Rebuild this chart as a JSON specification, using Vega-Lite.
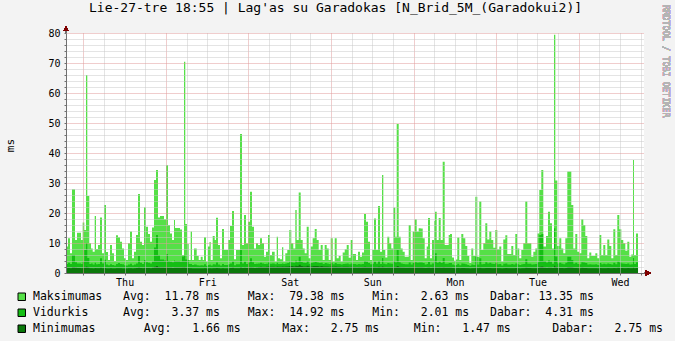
{
  "$schema": "https://vega.github.io/schema/vega-lite/v6.json",
  "width": 578,
  "height": 240,
  "autosize": "none",
  "padding": {"left": 66, "top": 33, "right": 31, "bottom": 68},
  "background": "#f3f3f3",
  "view": {"fill": "#ffffff", "stroke": null},
  "config": {"font": "DejaVu Sans Mono"},
  "title": {"text": "Lie-27-tre 18:55 | Lag'as su Garadokas [N_Brid_5M_(Garadokui2)]", "font": "DejaVu Sans Mono", "fontSize": 13, "fontWeight": "normal", "color": "#000000", "anchor": "start", "frame": "group", "dx": 23, "offset": -15.5, "baseline": "middle"},
  "data": {"values": [
    {"h":0,"mx":8.8,"av":3.0,"mn":1.6},{"h":0.29,"mx":11.6,"av":3.4,"mn":1.7},{"h":0.87,"mx":6.6,"av":3.0,"mn":1.6},{"h":1.45,"mx":27.9,"av":6.0,"mn":2.0},{"h":2.33,"mx":11,"av":3.6,"mn":1.8},{"h":2.91,"mx":13.4,"av":3.2,"mn":1.7},{"h":4.07,"mx":11,"av":3.0,"mn":1.6},{"h":4.56,"mx":16.8,"av":3.8,"mn":1.8},{"h":5.03,"mx":14.3,"av":7.7,"mn":1.9},{"h":5.52,"mx":66,"av":10,"mn":2.2},{"h":5.9,"mx":25.7,"av":5.0,"mn":1.9},{"h":6.48,"mx":9.9,"av":3.0,"mn":1.6},{"h":6.98,"mx":8.2,"av":3.2,"mn":1.6},{"h":7.47,"mx":7.1,"av":2.8,"mn":1.5},{"h":8.05,"mx":19,"av":3.4,"mn":1.7},{"h":8.43,"mx":8,"av":2.9,"mn":1.6},{"h":9.01,"mx":9.3,"av":3.0,"mn":1.6},{"h":9.59,"mx":18.5,"av":4.9,"mn":1.8},{"h":10.17,"mx":6.6,"av":3.2,"mn":1.6},{"h":10.75,"mx":22.7,"av":4.4,"mn":1.7},{"h":11.34,"mx":7,"av":2.8,"mn":1.5},{"h":11.92,"mx":4.3,"av":2.6,"mn":1.5},{"h":12.5,"mx":9.3,"av":2.9,"mn":1.6},{"h":13.08,"mx":6.6,"av":2.7,"mn":1.5},{"h":13.66,"mx":4,"av":2.5,"mn":1.47},{"h":14.24,"mx":12.6,"av":3.0,"mn":1.6},{"h":14.82,"mx":11.9,"av":3.3,"mn":1.6},{"h":15.4,"mx":10.4,"av":3.0,"mn":1.6},{"h":15.99,"mx":8.2,"av":2.9,"mn":1.5},{"h":16.57,"mx":4.9,"av":2.6,"mn":1.5},{"h":17.15,"mx":4.3,"av":2.5,"mn":1.5},{"h":17.73,"mx":9.9,"av":2.8,"mn":1.6},{"h":18.31,"mx":13.8,"av":3.1,"mn":1.6},{"h":18.89,"mx":4.9,"av":2.6,"mn":1.5},{"h":19.47,"mx":7.1,"av":2.8,"mn":1.6},{"h":20.06,"mx":12.7,"av":3.2,"mn":1.7},{"h":20.64,"mx":26.3,"av":5.7,"mn":1.9},{"h":21.22,"mx":10.4,"av":3.4,"mn":1.7},{"h":21.8,"mx":9.3,"av":3.0,"mn":1.6},{"h":22.38,"mx":21.9,"av":4.3,"mn":1.8},{"h":22.96,"mx":15.4,"av":3.6,"mn":1.7},{"h":23.54,"mx":13,"av":3.4,"mn":1.7},{"h":24.12,"mx":10.4,"av":3.2,"mn":1.6},{"h":24.71,"mx":15.2,"av":3.8,"mn":1.8},{"h":25.29,"mx":31,"av":8.5,"mn":2.1},{"h":25.87,"mx":34.3,"av":12.7,"mn":2.3},{"h":26.45,"mx":18.5,"av":6.0,"mn":2.0},{"h":27.03,"mx":19,"av":4.5,"mn":1.9},{"h":28.19,"mx":17.9,"av":4.2,"mn":1.8},{"h":28.78,"mx":36,"av":6.3,"mn":2.0},{"h":29.36,"mx":16,"av":4.0,"mn":1.8},{"h":29.94,"mx":13.2,"av":3.8,"mn":1.8},{"h":30.52,"mx":11,"av":3.6,"mn":1.7},{"h":31.1,"mx":17.7,"av":4.2,"mn":1.8},{"h":31.39,"mx":15,"av":4.0,"mn":1.8},{"h":32.84,"mx":14.5,"av":3.8,"mn":1.8},{"h":33.43,"mx":6,"av":5.5,"mn":1.9},{"h":34.01,"mx":70.4,"av":6,"mn":2.0},{"h":34.38,"mx":16.3,"av":4.5,"mn":1.8},{"h":34.88,"mx":9.7,"av":4.3,"mn":1.7},{"h":35.37,"mx":4.3,"av":3.0,"mn":1.6},{"h":35.95,"mx":13.8,"av":3.0,"mn":1.6},{"h":36.33,"mx":4.3,"av":2.7,"mn":1.5},{"h":36.91,"mx":8.2,"av":2.8,"mn":1.5},{"h":37.7,"mx":5.7,"av":2.6,"mn":1.5},{"h":38.28,"mx":4.3,"av":2.5,"mn":1.5},{"h":38.86,"mx":5.4,"av":2.6,"mn":1.5},{"h":39.44,"mx":4.3,"av":2.5,"mn":1.5},{"h":39.82,"mx":11.9,"av":2.9,"mn":1.6},{"h":40.4,"mx":3.8,"av":2.4,"mn":1.5},{"h":40.98,"mx":8.8,"av":2.7,"mn":1.5},{"h":41.42,"mx":10.3,"av":2.8,"mn":1.6},{"h":41.77,"mx":4.3,"av":2.5,"mn":1.5},{"h":42.35,"mx":12.3,"av":2.9,"mn":1.6},{"h":42.93,"mx":11,"av":2.8,"mn":1.6},{"h":43.31,"mx":18.4,"av":3.5,"mn":1.7},{"h":43.89,"mx":9.3,"av":2.8,"mn":1.6},{"h":44.47,"mx":4.9,"av":2.5,"mn":1.5},{"h":45.05,"mx":14.7,"av":3.0,"mn":1.6},{"h":45.63,"mx":7.7,"av":2.7,"mn":1.5},{"h":46.8,"mx":11,"av":2.9,"mn":1.6},{"h":47.38,"mx":15.7,"av":3.2,"mn":1.7},{"h":47.96,"mx":20.7,"av":3.8,"mn":1.8},{"h":48.54,"mx":4.6,"av":2.6,"mn":1.6},{"h":49.12,"mx":7.7,"av":2.9,"mn":1.6},{"h":50.28,"mx":46.3,"av":7.7,"mn":2.0},{"h":50.87,"mx":9.3,"av":3.2,"mn":1.7},{"h":51.45,"mx":19.3,"av":3.8,"mn":1.8},{"h":52.03,"mx":9.9,"av":3.0,"mn":1.7},{"h":52.61,"mx":17.1,"av":3.5,"mn":1.8},{"h":53.19,"mx":27.1,"av":4.9,"mn":1.9},{"h":53.77,"mx":15.4,"av":3.6,"mn":1.8},{"h":54.35,"mx":8.2,"av":3.0,"mn":1.7},{"h":54.93,"mx":9.9,"av":3.1,"mn":1.8},{"h":55.52,"mx":9.3,"av":3.2,"mn":2.0},{"h":56.1,"mx":11.6,"av":3.4,"mn":2.1},{"h":56.68,"mx":9.9,"av":3.2,"mn":2.0},{"h":57.26,"mx":5.4,"av":3.0,"mn":2.0},{"h":57.84,"mx":7.1,"av":3.1,"mn":2.1},{"h":58.42,"mx":12.7,"av":3.5,"mn":2.2},{"h":59.0,"mx":6,"av":3.1,"mn":2.1},{"h":59.58,"mx":7.1,"av":3.2,"mn":2.1},{"h":60.37,"mx":3.8,"av":2.9,"mn":2.0},{"h":60.95,"mx":12.1,"av":3.4,"mn":2.2},{"h":61.33,"mx":4.9,"av":3.0,"mn":2.1},{"h":61.91,"mx":4.6,"av":3.0,"mn":2.1},{"h":62.49,"mx":8.6,"av":3.2,"mn":2.2},{"h":62.87,"mx":3.8,"av":3.0,"mn":2.1},{"h":63.45,"mx":6.6,"av":3.2,"mn":2.2},{"h":64.03,"mx":7.7,"av":3.3,"mn":2.2},{"h":64.61,"mx":14.3,"av":3.8,"mn":2.3},{"h":65.19,"mx":9.9,"av":3.5,"mn":2.3},{"h":65.78,"mx":8.2,"av":3.4,"mn":2.2},{"h":66.36,"mx":21,"av":4.2,"mn":2.4},{"h":66.76,"mx":11,"av":3.6,"mn":2.3},{"h":67.35,"mx":26.8,"av":5.4,"mn":2.75},{"h":67.93,"mx":11,"av":3.7,"mn":2.3},{"h":68.51,"mx":8.2,"av":3.4,"mn":2.2},{"h":69.09,"mx":6.6,"av":3.3,"mn":2.2},{"h":69.67,"mx":15.4,"av":4.0,"mn":2.4},{"h":70.25,"mx":4.9,"av":3.1,"mn":2.2},{"h":70.83,"mx":8.8,"av":3.3,"mn":2.2},{"h":71.41,"mx":11.6,"av":3.5,"mn":2.3},{"h":72.0,"mx":14.7,"av":3.7,"mn":2.3},{"h":72.58,"mx":11,"av":3.5,"mn":2.3},{"h":73.16,"mx":7.7,"av":3.3,"mn":2.2},{"h":73.74,"mx":9.3,"av":3.4,"mn":2.3},{"h":74.32,"mx":4.3,"av":3.0,"mn":2.2},{"h":74.9,"mx":9.3,"av":3.3,"mn":2.2},{"h":75.48,"mx":8.2,"av":3.2,"mn":2.2},{"h":76.07,"mx":4.3,"av":3.0,"mn":2.1},{"h":76.65,"mx":11.6,"av":3.4,"mn":2.2},{"h":77.23,"mx":3.8,"av":2.9,"mn":2.1},{"h":77.81,"mx":11.6,"av":3.3,"mn":2.2},{"h":78.39,"mx":4.9,"av":3.0,"mn":2.1},{"h":78.97,"mx":5.7,"av":3.0,"mn":2.1},{"h":79.55,"mx":3.8,"av":2.8,"mn":2.0},{"h":80.13,"mx":6.8,"av":3.0,"mn":2.1},{"h":80.72,"mx":7.9,"av":3.1,"mn":2.1},{"h":81.3,"mx":9.3,"av":3.2,"mn":2.1},{"h":81.88,"mx":5.1,"av":2.9,"mn":2.0},{"h":82.46,"mx":11,"av":3.2,"mn":2.1},{"h":83.04,"mx":6.3,"av":3.0,"mn":2.0},{"h":84.0,"mx":4.3,"av":2.8,"mn":1.9},{"h":84.58,"mx":7.1,"av":3.0,"mn":2.0},{"h":85.16,"mx":5.4,"av":2.9,"mn":1.9},{"h":85.74,"mx":6.8,"av":3.0,"mn":2.0},{"h":86.33,"mx":19.7,"av":4.0,"mn":2.1},{"h":86.91,"mx":17.1,"av":3.8,"mn":2.0},{"h":87.49,"mx":10.4,"av":3.3,"mn":2.0},{"h":88.07,"mx":4.3,"av":2.9,"mn":1.9},{"h":88.65,"mx":7.7,"av":3.1,"mn":1.9},{"h":89.23,"mx":18.2,"av":3.8,"mn":2.0},{"h":89.81,"mx":7.7,"av":3.1,"mn":1.9},{"h":90.39,"mx":22.3,"av":4.0,"mn":2.1},{"h":90.98,"mx":7.1,"av":3.0,"mn":1.9},{"h":91.56,"mx":32.7,"av":5.0,"mn":2.2},{"h":91.94,"mx":7.7,"av":3.1,"mn":1.9},{"h":92.52,"mx":5.2,"av":2.9,"mn":1.8},{"h":93.1,"mx":12.1,"av":3.3,"mn":1.9},{"h":93.68,"mx":9.9,"av":3.2,"mn":1.9},{"h":94.26,"mx":8.2,"av":3.1,"mn":1.9},{"h":94.84,"mx":21.8,"av":4.0,"mn":2.0},{"h":95.42,"mx":12.1,"av":3.5,"mn":2.0},{"h":95.83,"mx":49.7,"av":7.7,"mn":2.3},{"h":96.41,"mx":12.1,"av":3.6,"mn":2.0},{"h":96.99,"mx":8.2,"av":3.2,"mn":1.9},{"h":97.57,"mx":7.1,"av":3.0,"mn":1.9},{"h":98.16,"mx":5.4,"av":2.9,"mn":1.8},{"h":99.32,"mx":16,"av":3.5,"mn":1.9},{"h":99.9,"mx":4.3,"av":2.8,"mn":1.8},{"h":100.48,"mx":13.8,"av":3.3,"mn":1.9},{"h":101.06,"mx":17.9,"av":3.6,"mn":1.9},{"h":101.64,"mx":13.8,"av":3.4,"mn":1.9},{"h":102.22,"mx":14.9,"av":3.5,"mn":1.9},{"h":102.8,"mx":14.8,"av":3.5,"mn":1.9},{"h":103.39,"mx":11.6,"av":3.3,"mn":1.8},{"h":103.97,"mx":4.9,"av":2.8,"mn":1.7},{"h":104.55,"mx":8.8,"av":3.0,"mn":1.8},{"h":104.93,"mx":18.3,"av":3.7,"mn":1.9},{"h":105.51,"mx":4.9,"av":2.8,"mn":1.7},{"h":106.09,"mx":11,"av":3.2,"mn":1.8},{"h":106.67,"mx":17.3,"av":4.5,"mn":1.9},{"h":106.96,"mx":20.4,"av":6.6,"mn":2.0},{"h":107.46,"mx":11,"av":3.4,"mn":1.8},{"h":108.04,"mx":18.3,"av":3.8,"mn":1.9},{"h":108.62,"mx":11,"av":3.3,"mn":1.8},{"h":109.2,"mx":37.1,"av":5.0,"mn":2.0},{"h":109.78,"mx":9.3,"av":3.1,"mn":1.8},{"h":110.94,"mx":12.7,"av":3.3,"mn":1.8},{"h":111.32,"mx":13,"av":3.3,"mn":1.8},{"h":111.9,"mx":5.2,"av":2.8,"mn":1.7},{"h":112.48,"mx":4.1,"av":2.6,"mn":1.6},{"h":113.07,"mx":4.5,"av":2.7,"mn":1.6},{"h":113.44,"mx":11.8,"av":3.1,"mn":1.7},{"h":114.03,"mx":4.3,"av":2.6,"mn":1.6},{"h":114.61,"mx":13,"av":3.2,"mn":1.7},{"h":115.19,"mx":11.6,"av":3.1,"mn":1.7},{"h":115.77,"mx":9,"av":2.9,"mn":1.6},{"h":116.35,"mx":5.7,"av":2.7,"mn":1.6},{"h":116.93,"mx":3.4,"av":2.4,"mn":1.5},{"h":117.51,"mx":8.2,"av":2.8,"mn":1.6},{"h":118.09,"mx":5.7,"av":2.7,"mn":1.6},{"h":118.68,"mx":25.4,"av":5.4,"mn":1.9},{"h":119.26,"mx":5.4,"av":2.8,"mn":1.6},{"h":119.84,"mx":23.8,"av":4.9,"mn":1.8},{"h":120.42,"mx":7.7,"av":2.9,"mn":1.6},{"h":121.0,"mx":9.9,"av":3.0,"mn":1.6},{"h":121.58,"mx":16.6,"av":3.6,"mn":1.7},{"h":122.16,"mx":11.2,"av":3.2,"mn":1.7},{"h":122.75,"mx":13.8,"av":3.4,"mn":1.7},{"h":123.33,"mx":11,"av":3.1,"mn":1.6},{"h":123.91,"mx":8.4,"av":3.0,"mn":1.6},{"h":124.49,"mx":14.3,"av":3.4,"mn":1.7},{"h":125.07,"mx":7.9,"av":2.9,"mn":1.6},{"h":125.65,"mx":8.8,"av":3.0,"mn":1.6},{"h":126.23,"mx":3.8,"av":2.5,"mn":1.5},{"h":126.81,"mx":11.2,"av":3.1,"mn":1.6},{"h":127.4,"mx":12.6,"av":3.2,"mn":1.7},{"h":127.98,"mx":6.3,"av":2.8,"mn":1.6},{"h":129.14,"mx":9,"av":3.0,"mn":1.6},{"h":129.72,"mx":6,"av":2.8,"mn":1.6},{"h":130.3,"mx":13,"av":3.2,"mn":1.7},{"h":130.88,"mx":8.2,"av":2.9,"mn":1.6},{"h":131.46,"mx":4.9,"av":2.7,"mn":1.5},{"h":132.05,"mx":7.7,"av":2.9,"mn":1.6},{"h":132.63,"mx":9.9,"av":3.0,"mn":1.6},{"h":133.21,"mx":23.8,"av":4.6,"mn":1.8},{"h":133.79,"mx":9.9,"av":3.1,"mn":1.7},{"h":134.95,"mx":5.4,"av":2.8,"mn":1.6},{"h":135.54,"mx":7.1,"av":2.9,"mn":1.6},{"h":136.12,"mx":8.2,"av":3.0,"mn":1.6},{"h":136.7,"mx":13.2,"av":3.6,"mn":1.7},{"h":137.28,"mx":27.7,"av":12.7,"mn":2.1},{"h":137.86,"mx":34.3,"av":13.0,"mn":2.2},{"h":138.44,"mx":8.8,"av":4.0,"mn":1.8},{"h":139.22,"mx":12.3,"av":3.5,"mn":1.7},{"h":139.8,"mx":20.4,"av":4.2,"mn":1.8},{"h":140.39,"mx":16.6,"av":3.8,"mn":1.8},{"h":140.97,"mx":8.2,"av":3.1,"mn":1.7},{"h":141.55,"mx":79.4,"av":14.9,"mn":2.4},{"h":141.93,"mx":30.8,"av":5.5,"mn":2.0},{"h":142.51,"mx":9,"av":3.2,"mn":1.7},{"h":143.09,"mx":11.6,"av":3.4,"mn":1.7},{"h":143.67,"mx":8.2,"av":3.1,"mn":1.7},{"h":144.25,"mx":6.6,"av":2.9,"mn":1.6},{"h":144.84,"mx":11.6,"av":3.4,"mn":1.7},{"h":145.42,"mx":33.8,"av":5.4,"mn":2.0},{"h":146.58,"mx":22.7,"av":4.3,"mn":1.9},{"h":147.16,"mx":8.2,"av":3.1,"mn":1.7},{"h":147.74,"mx":13,"av":3.4,"mn":1.7},{"h":148.32,"mx":7.1,"av":3.0,"mn":1.6},{"h":148.91,"mx":6.6,"av":2.9,"mn":1.6},{"h":149.49,"mx":17.9,"av":3.6,"mn":1.8},{"h":150.07,"mx":16,"av":3.5,"mn":1.7},{"h":150.65,"mx":12.3,"av":3.3,"mn":1.7},{"h":151.23,"mx":4.9,"av":2.8,"mn":1.6},{"h":151.81,"mx":6.8,"av":2.9,"mn":1.6},{"h":152.39,"mx":5.7,"av":2.8,"mn":1.6},{"h":153.56,"mx":6.6,"av":2.9,"mn":1.6},{"h":154.14,"mx":4.9,"av":2.7,"mn":1.5},{"h":154.72,"mx":12.7,"av":3.3,"mn":1.7},{"h":155.3,"mx":6,"av":2.9,"mn":1.6},{"h":155.88,"mx":9.3,"av":3.1,"mn":1.6},{"h":156.46,"mx":6,"av":2.9,"mn":1.6},{"h":157.04,"mx":11.2,"av":3.2,"mn":1.7},{"h":157.63,"mx":9,"av":3.0,"mn":1.6},{"h":158.21,"mx":4.9,"av":2.8,"mn":1.6},{"h":158.79,"mx":14.6,"av":3.4,"mn":1.7},{"h":159.37,"mx":6,"av":2.9,"mn":1.6},{"h":159.95,"mx":19.3,"av":3.8,"mn":1.8},{"h":160.53,"mx":14.6,"av":3.5,"mn":1.7},{"h":161.11,"mx":11,"av":3.2,"mn":1.7},{"h":161.69,"mx":9.9,"av":3.1,"mn":1.6},{"h":162.28,"mx":7.4,"av":3.0,"mn":1.6},{"h":162.86,"mx":10.4,"av":3.2,"mn":1.7},{"h":163.44,"mx":5.4,"av":2.8,"mn":1.6},{"h":164.02,"mx":6.2,"av":2.9,"mn":1.6},{"h":164.51,"mx":37.7,"av":5.0,"mn":1.9},{"h":164.8,"mx":6,"av":3.0,"mn":1.6},{"h":165.38,"mx":13.2,"av":3.6,"mn":1.7},{"h":165.97,"mx":13.2,"av":3.6,"mn":1.7}
  ]},
  "encoding": {
    "x": {"field": "h", "type": "quantitative",
      "scale": {"domain": [-0.29, 167.71], "nice": false, "zero": false},
      "axis": {"values": [4.75,10.75,16.75,22.75,28.75,34.75,40.75,46.75,52.75,58.75,64.75,70.75,76.75,82.75,88.75,94.75,100.75,106.75,112.75,118.75,124.75,130.75,136.75,142.75,148.75,154.75,160.75,166.75],
        "labelExpr": "datum.value == 16.75 ? 'Thu' : datum.value == 40.75 ? 'Fri' : datum.value == 64.75 ? 'Sat' : datum.value == 88.75 ? 'Sun' : datum.value == 112.75 ? 'Mon' : datum.value == 136.75 ? 'Tue' : datum.value == 160.75 ? 'Wed' : ''",
        "title": null, "zindex": 1, "grid": true,
        "gridColor": {"condition": {"test": "datum.value == 4.75 || datum.value == 28.75 || datum.value == 52.75 || datum.value == 76.75 || datum.value == 100.75 || datum.value == 124.75 || datum.value == 148.75", "value": "#e09a9a"}, "value": "#c8c8c8"},
        "gridDash": [1, 1], "gridWidth": 1,
        "domainColor": "#707070", "domainWidth": 1,
        "ticks": true, "tickSize": 2, "tickColor": "#707070",
        "labelFont": "DejaVu Sans Mono", "labelFontSize": 10, "labelColor": "#000000", "labelPadding": 2,
        "labelOverlap": false, "labelFlush": false}},
    "y": {"type": "quantitative",
      "scale": {"domain": [0, 80], "nice": false, "zero": true},
      "axis": {"values": [0,2,4,6,8,10,12,14,16,18,20,22,24,26,28,30,32,34,36,38,40,42,44,46,48,50,52,54,56,58,60,62,64,66,68,70,72,74,76,78,80],
        "labelExpr": "datum.value % 10 == 0 ? datum.label : ''",
        "title": "ms", "titleFont": "DejaVu Sans Mono", "titleFontSize": 11, "titleFontWeight": "normal", "titleColor": "#000000",
        "titleX": -56, "titleY": 112, "titleAngle": -90, "titleAlign": "center", "titleBaseline": "middle",
        "zindex": 1, "grid": true,
        "gridColor": {"condition": {"test": "datum.value % 10 == 0", "value": "#e09a9a"}, "value": "#c8c8c8"},
        "gridDash": [1, 1], "gridWidth": 1,
        "domainColor": "#707070", "domainWidth": 1,
        "ticks": true, "tickSize": 2, "tickColor": "#707070",
        "labelFont": "DejaVu Sans Mono", "labelFontSize": 10, "labelColor": "#000000", "labelPadding": 4,
        "labelOverlap": false}}
  },
  "layer": [
    {
      "mark": {"type": "area", "interpolate": "step-after", "opacity": 1},
      "encoding": {
        "y": {"field": "mx"},
        "color": {"datum": "Maksimumas", "type": "nominal",
          "scale": {"domain": ["Maksimumas", "Vidurkis", "Minimumas"], "range": ["#55E047", "#14BE14", "#0A780A"]},
          "legend": {"orient": "none", "legendX": -50, "legendY": 258, "direction": "vertical", "title": null, "padding": 0,
            "symbolType": "square", "symbolSize": 56, "symbolStrokeColor": "#000000", "symbolStrokeWidth": 1, "symbolOpacity": 1,
            "labelFont": "DejaVu Sans Mono", "labelFontSize": 11.5, "labelColor": "#000000", "labelOffset": 5.5, "labelLimit": 700, "rowPadding": 3,
            "labelExpr": "{'Maksimumas': 'Maksimumas\u00a0\u00a0\u00a0Avg:\u00a0\u00a011.78\u00a0ms\u00a0\u00a0\u00a0\u00a0Max:\u00a0\u00a079.38\u00a0ms\u00a0\u00a0\u00a0\u00a0Min:\u00a0\u00a0\u00a02.63\u00a0ms\u00a0\u00a0\u00a0Dabar:\u00a013.35\u00a0ms', 'Vidurkis': 'Vidurkis\u00a0\u00a0\u00a0\u00a0\u00a0Avg:\u00a0\u00a0\u00a03.37\u00a0ms\u00a0\u00a0\u00a0\u00a0Max:\u00a0\u00a014.92\u00a0ms\u00a0\u00a0\u00a0\u00a0Min:\u00a0\u00a0\u00a02.01\u00a0ms\u00a0\u00a0\u00a0Dabar:\u00a0\u00a04.31\u00a0ms', 'Minimumas': 'Minimumas\u00a0\u00a0\u00a0\u00a0\u00a0\u00a0\u00a0Avg:\u00a0\u00a0\u00a01.66\u00a0ms\u00a0\u00a0\u00a0\u00a0\u00a0\u00a0Max:\u00a0\u00a0\u00a02.75\u00a0ms\u00a0\u00a0\u00a0\u00a0\u00a0Min:\u00a0\u00a0\u00a01.47\u00a0ms\u00a0\u00a0\u00a0\u00a0\u00a0\u00a0Dabar:\u00a0\u00a0\u00a02.75\u00a0ms'}[datum.label]"}}
      }
    },
    {
      "mark": {"type": "area", "interpolate": "step-after", "opacity": 1},
      "encoding": {
        "y": {"field": "av"},
        "color": {"datum": "Vidurkis", "type": "nominal"}
      }
    },
    {
      "mark": {"type": "area", "interpolate": "step-after", "opacity": 1},
      "encoding": {
        "y": {"field": "mn"},
        "color": {"datum": "Minimumas", "type": "nominal"}
      }
    },
    {
      "mark": {"type": "rule", "color": "#707070", "strokeWidth": 1},
      "encoding": {
        "x": {"datum": -0.29, "type": "quantitative"},
        "y": {"datum": 80, "type": "quantitative"},
        "y2": {"datum": 81.6}
      }
    },
    {
      "mark": {"type": "rule", "color": "#707070", "strokeWidth": 1},
      "encoding": {
        "x": {"datum": 167.71, "type": "quantitative"},
        "x2": {"datum": 168.6},
        "y": {"datum": 0, "type": "quantitative"}
      }
    },
    {
      "mark": {"type": "point", "shape": "triangle-up", "filled": true, "color": "#7f0000", "size": 28, "opacity": 1},
      "encoding": {
        "x": {"datum": -0.29, "type": "quantitative"},
        "y": {"datum": 81.4, "type": "quantitative"}
      }
    },
    {
      "mark": {"type": "point", "shape": "triangle-right", "filled": true, "color": "#7f0000", "size": 28, "opacity": 1},
      "encoding": {
        "x": {"datum": 168.87, "type": "quantitative"},
        "y": {"datum": 0, "type": "quantitative"}
      }
    },
    {
      "mark": {"type": "text", "text": "RRDTOOL / TOBI OETIKER", "angle": 90, "align": "left", "baseline": "middle", "font": "DejaVu Sans Mono", "fontSize": 8.5, "color": "#b4b4b4"},
      "encoding": {
        "x": {"datum": 174.1, "type": "quantitative"},
        "y": {"datum": 89.3, "type": "quantitative"}
      }
    }
  ]
}
